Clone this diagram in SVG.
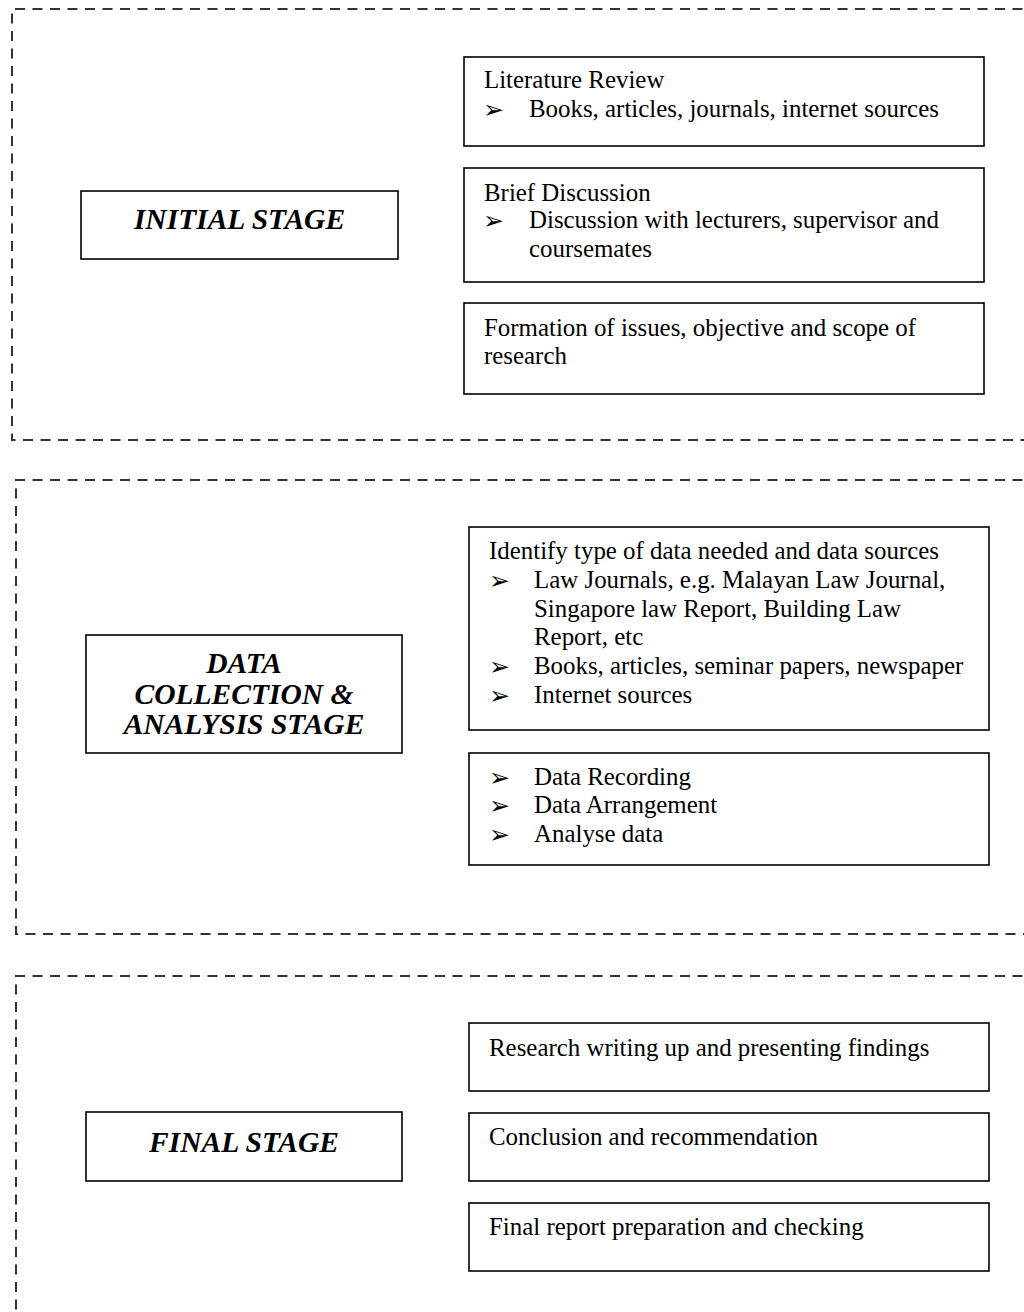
<svg xmlns="http://www.w3.org/2000/svg" width="1024" height="1312" viewBox="0 0 1024 1312">
<style>
.bg{fill:#ffffff}
.stage{fill:none;stroke:#333333;stroke-width:2;stroke-dasharray:10 7.5}
.box{fill:#ffffff;stroke:#000000;stroke-width:1.6}
.t{font-family:"Liberation Serif","Times New Roman",serif;font-size:24.9px;fill:#000000}
.h{font-family:"Liberation Serif","Times New Roman",serif;font-size:29.5px;font-weight:bold;font-style:italic;fill:#000000;text-anchor:middle}
.b{font-family:"DejaVu Sans",sans-serif;font-size:25px;fill:#000000}
</style>
<rect class="bg" x="0" y="0" width="1024" height="1312"/>
<g id="stage-regions">
  <path id="region-initial" class="stage" d="M1040,9 H12 V440 H1040"/>
  <path id="region-data" class="stage" d="M1040,480 H16 V934 H1040"/>
  <path id="region-final" class="stage" d="M1040,976 H16 V1320"/>
</g>
<g id="connectors"></g>

<g id="initial-stage">
  <rect class="box" x="81" y="191" width="317" height="68"/>
  <text class="h" x="239.5" y="229">INITIAL STAGE</text>
</g>
<g id="literature-review">
  <rect class="box" x="464" y="57" width="520" height="89"/>
  <text class="t" x="484" y="88">Literature Review</text>
  <text class="b" x="483" y="118">➢</text>
  <text class="t" x="529" y="117">Books, articles, journals, internet sources</text>
</g>
<g id="brief-discussion">
  <rect class="box" x="464" y="168" width="520" height="114"/>
  <text class="t" x="484" y="201">Brief Discussion</text>
  <text class="b" x="483" y="229">➢</text>
  <text class="t" x="529" y="228">Discussion with lecturers, supervisor and</text>
  <text class="t" x="529" y="257">coursemates</text>
</g>
<g id="formation">
  <rect class="box" x="464" y="303" width="520" height="91"/>
  <text class="t" x="484" y="336">Formation of issues, objective and scope of</text>
  <text class="t" x="484" y="364">research</text>
</g>

<g id="data-stage">
  <rect class="box" x="86" y="635" width="316" height="118"/>
  <text class="h" x="244" y="673">DATA</text>
  <text class="h" x="244" y="704">COLLECTION &amp;</text>
  <text class="h" x="244" y="734">ANALYSIS STAGE</text>
</g>
<g id="identify-data">
  <rect class="box" x="469" y="527" width="520" height="203"/>
  <text class="t" x="489" y="559">Identify type of data needed and data sources</text>
  <text class="b" x="489" y="589">➢</text>
  <text class="t" x="534" y="588">Law Journals, e.g. Malayan Law Journal,</text>
  <text class="t" x="534" y="617">Singapore law Report, Building Law</text>
  <text class="t" x="534" y="645">Report, etc</text>
  <text class="b" x="489" y="675">➢</text>
  <text class="t" x="534" y="674">Books, articles, seminar papers, newspaper</text>
  <text class="b" x="489" y="704">➢</text>
  <text class="t" x="534" y="703">Internet sources</text>
</g>
<g id="data-processing">
  <rect class="box" x="469" y="753" width="520" height="112"/>
  <text class="b" x="489" y="786">➢</text>
  <text class="t" x="534" y="785">Data Recording</text>
  <text class="b" x="489" y="814">➢</text>
  <text class="t" x="534" y="813">Data Arrangement</text>
  <text class="b" x="489" y="843">➢</text>
  <text class="t" x="534" y="842">Analyse data</text>
</g>

<g id="final-stage">
  <rect class="box" x="86" y="1112" width="316" height="69"/>
  <text class="h" x="244" y="1152">FINAL STAGE</text>
</g>
<g id="research-writing">
  <rect class="box" x="469" y="1023" width="520" height="68"/>
  <text class="t" x="489" y="1056">Research writing up and presenting findings</text>
</g>
<g id="conclusion">
  <rect class="box" x="469" y="1113" width="520" height="68"/>
  <text class="t" x="489" y="1145">Conclusion and recommendation</text>
</g>
<g id="final-report">
  <rect class="box" x="469" y="1203" width="520" height="68"/>
  <text class="t" x="489" y="1235">Final report preparation and checking</text>
</g>
</svg>
